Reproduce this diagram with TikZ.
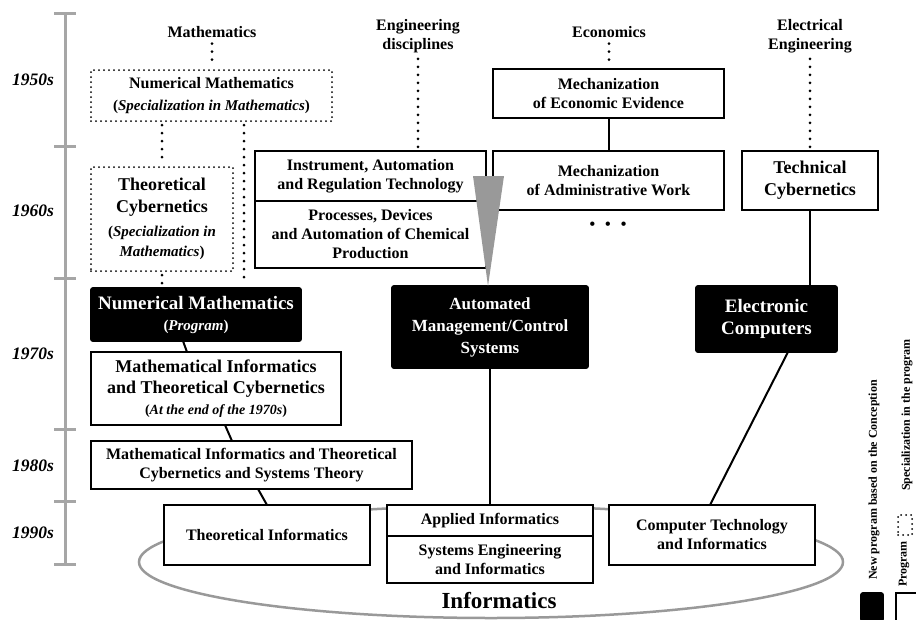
\documentclass[tikz,border=0pt]{standalone}
\usepackage{fontspec}
\setmainfont{Liberation Serif}
\usetikzlibrary{calc,positioning}
\tikzset{
	inf_base/.style={font=\bfseries\fontsize{16}{19}\selectfont, outer sep=0pt, inner sep=2pt, align=center},
	inf_box/.style={inf_base, draw, rectangle, line width=1.8pt, fill=white},
	inf_black/.style={inf_base, draw, rectangle, line width=1.8pt, fill=black, text=white, rounded corners=2pt},
	inf_spec/.style={inf_base, draw, rectangle, fill=white, line width=2pt, dash pattern=on 0pt off 5pt, line cap=round},
	inf_large/.style={font=\bfseries\fontsize{18}{22}\selectfont},
	inf_huge/.style={font=\bfseries\fontsize{19}{22}\selectfont},
	inf_head/.style={inf_base},
	inf_line/.style={draw=black, line width=2pt},
	inf_dots/.style={draw=black, line width=3pt, dash pattern=on 0pt off 8pt, line cap=round, shorten <=4pt, shorten >=4pt},
	inf_axis/.style={draw=black!35, line width=3pt},
	inf_ring/.style={draw=black!40, line width=2.5pt},
	inf_funnel/.style={fill=black!40},
	inf_decade/.style={font=\bfseries\itshape\fontsize{17.5}{20}\selectfont, inner sep=0pt},
	inf_legend/.style={font=\bfseries\fontsize{12}{14}\selectfont, rotate=90, inner sep=0pt}
}
\newcommand{\infnote}[1]{{\fontsize{15}{18}\selectfont#1}}

\begin{document}
\begin{tikzpicture}[x=1pt, y=-1pt]
	\useasboundingbox (0,0) rectangle (916,619);

	% time axis
	\draw[inf_axis] (65,13) -- (65,564);
	\foreach \y in {13,146,278,429,501,564}
		\draw[inf_axis] (54,\y) -- (76,\y);
	\foreach \d/\y in {1950/80,1960/211,1970/354,1980/466,1990/533}
		\node[inf_decade] (dec\d) at (33,\y) {\d s};

	% informatics ring
	\draw[inf_ring] (491,562) ellipse [x radius=352pt, y radius=56pt];
	\node[inf_base, font=\bfseries\fontsize{23}{26}\selectfont] (informatics) at (499,601) {Informatics};

	% disciplines
	\node[inf_head] (math_head) at (212,32) {Mathematics};
	\node[inf_head] (eng_head) at (418,36) {Engineering\\disciplines};
	\node[inf_head] (econ_head) at (609,32) {Economics};
	\node[inf_head] (elec_head) at (810,36) {Electrical\\Engineering};

	% mathematics branch
	\node[inf_spec, minimum width=241pt, minimum height=51pt] (nummath_spec) at (211.5,95.5) {Numerical Mathematics\\[3pt]\infnote{(\textit{Specialization in Mathematics})}};
	\node[inf_spec, inf_large, minimum width=142pt, minimum height=104pt] (theocyb) at (162,219) {Theoretical\\Cybernetics\\[2pt]\infnote{(\textit{Specialization in}}\\[-2pt]\infnote{\textit{Mathematics})}};
	\node[inf_black, inf_huge, minimum width=210pt, minimum height=53pt] (nummath_prog) at (196,314.5) {Numerical Mathematics\\[-1pt]\infnote{(\textit{Program})}};
	\node[inf_box, inf_large, minimum width=250pt, minimum height=73pt] (mathinf) at (216,388.5) {Mathematical Informatics\\[-1pt]and Theoretical Cybernetics\\[-1pt]{\fontsize{14}{17}\selectfont(\textit{At the end of the 1970s})}};
	\node[inf_box, minimum width=321pt, minimum height=48pt] (mathinfsys) at (251.5,465) {Mathematical Informatics and Theoretical\\Cybernetics and Systems Theory};

	% engineering branch
	\node[inf_box, minimum width=231pt, minimum height=50pt] (instr) at (370.5,176) {Instrument, Automation\\and Regulation Technology};
	\node[inf_box, minimum width=231pt, minimum height=67pt, below=0pt of instr] (chem) {Processes, Devices\\and Automation of Chemical\\Production};

	% economics branch
	\node[inf_box, minimum width=231pt, minimum height=49pt] (mechecon) at (608.5,93.5) {Mechanization\\of Economic Evidence};
	\node[inf_box, minimum width=231pt, minimum height=59pt] (mechadm) at (608.5,180.5) {Mechanization\\of Administrative Work};
	\node[inf_base] (more) at (608,226) {\textbullet\hspace{10pt}\textbullet\hspace{10pt}\textbullet};

	% electrical branch
	\node[inf_box, inf_large, minimum width=136pt, minimum height=59pt] (techcyb) at (810,180.5) {Technical\\Cybernetics};

	% new programs
	\node[inf_black, font=\bfseries\fontsize{17}{22}\selectfont, minimum width=196pt, minimum height=82pt] (amcs) at (490,327) {Automated\\Management/Control\\Systems};
	\node[inf_black, inf_huge, minimum width=141pt, minimum height=66pt] (eleccomp) at (766.5,319) {Electronic\\Computers};

	% 1990s
	\node[inf_box, minimum width=206pt, minimum height=60pt] (theoinf) at (267,535) {Theoretical Informatics};
	\node[inf_box, minimum width=206pt, minimum height=31pt] (appinf) at (490,520.5) {Applied Informatics};
	\node[inf_box, minimum width=206pt, minimum height=47pt, below=0pt of appinf] (syseng) {Systems Engineering\\and Informatics};
	\node[inf_box, minimum width=206pt, minimum height=60pt] (comptech) at (712,535) {Computer Technology\\and Informatics};

	% dotted links
	\coordinate (nm_branch) at ($(nummath_spec.south)+(32.5,0)$);
	\path[inf_dots] (math_head.south) -- (math_head.south |- nummath_spec.north);
	\path[inf_dots] (theocyb.north |- nummath_spec.south) -- (theocyb.north);
	\path[inf_dots] (nm_branch) -- (nm_branch |- nummath_prog.north);
	\path[inf_dots] (theocyb.south) -- (theocyb.south |- nummath_prog.north);
	\path[inf_dots] (eng_head.south) -- (eng_head.south |- instr.north);
	\path[inf_dots] (econ_head.south) -- (econ_head.south |- mechecon.north);
	\path[inf_dots] (elec_head.south) -- (elec_head.south |- techcyb.north);

	% solid links
	\draw[inf_line] ($(nummath_prog.south)+(-13,0)$) -- ($(mathinf.north)+(-29,0)$);
	\draw[inf_line] ($(mathinf.south)+(9,0)$) -- ($(mathinfsys.north)+(-19.5,0)$);
	\draw[inf_line] ($(mathinfsys.south)+(6.5,0)$) -- (theoinf.north);
	\draw[inf_line] (mechecon) -- (mechadm);
	\draw[inf_line] (techcyb.south) -- (techcyb.south |- eleccomp.north);
	\draw[inf_line] (amcs) -- (appinf);
	\draw[inf_line] ($(eleccomp.south)+(21.5,0)$) -- ($(comptech.north)+(-2,0)$);

	% funnel into the new program
	\fill[inf_funnel] ($(amcs.north |- instr.center)+(-17,0)$) -- ($(amcs.north |- instr.center)+(14,0)$) -- ($(amcs.north)+(-2,0)$) -- cycle;

	% legend
	\node[inf_black, minimum width=22pt, minimum height=28pt] (key_new) at (872,607) {};
	\node[inf_box, minimum width=22pt, minimum height=28pt] (key_prog) at (907,607) {};
	\node[inf_spec, minimum width=14pt, minimum height=20pt] (key_spec) at (905,525) {};
	\node[inf_legend] (txt_new) at (874,480) {New program based on the Conception};
	\node[inf_legend] (txt_prog) at (904,564) {Program};
	\node[inf_legend] (txt_spec) at (907,415) {Specialization in the program};
\end{tikzpicture}
\end{document}
